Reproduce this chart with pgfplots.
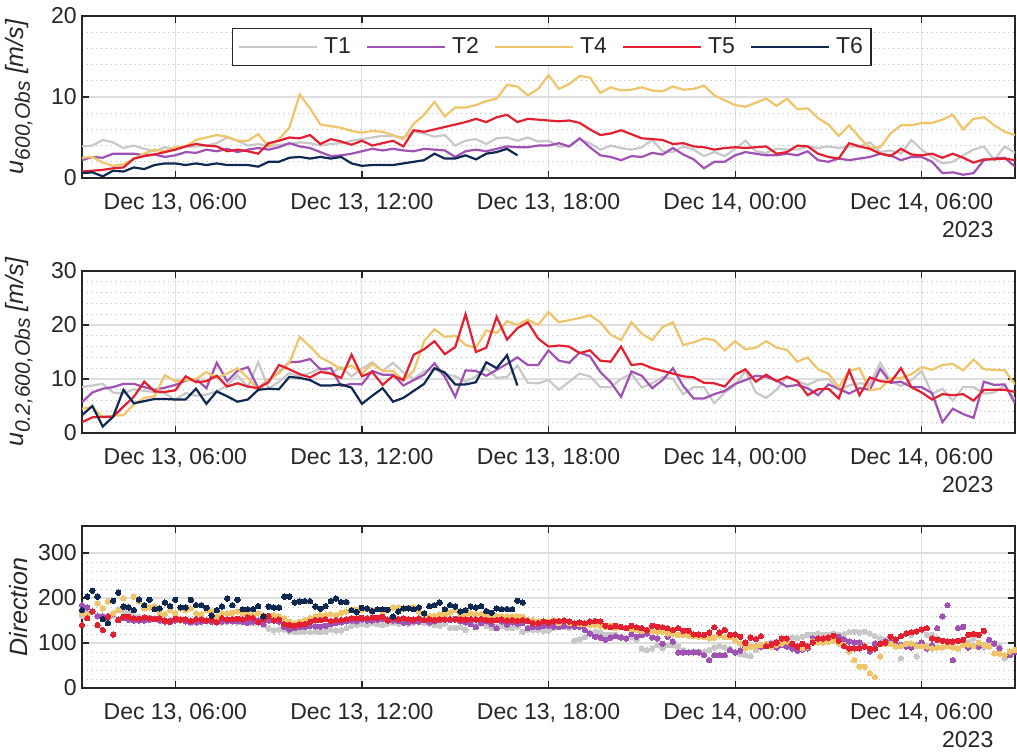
\documentclass[border=0pt]{standalone}
\usepackage{fontspec}
\setmainfont{Liberation Sans}
\usepackage{pgfplots}
\usepackage{pgfplotstable}
\pgfplotsset{compat=1.18}
\definecolor{cT1}{RGB}{200,200,200}
\definecolor{cT2}{RGB}{160,82,180}
\definecolor{cT4}{RGB}{240,196,104}
\definecolor{cT5}{RGB}{228,32,48}
\definecolor{cT6}{RGB}{14,40,82}
\definecolor{axc}{RGB}{38,38,38}
\definecolor{grd}{RGB}{222,222,222}
\definecolor{mgrd}{RGB}{185,185,185}
\newcommand\sub[1]{\raisebox{-0.45ex}{\fontsize{10.5}{12}\selectfont #1}}

% ---------- panel 1 (20-min steps from 03:00) ----------
\pgfplotstableread[row sep=\\]{v\\3.9\\4.0\\4.7\\4.4\\3.7\\4.0\\3.6\\3.3\\3.8\\3.5\\3.9\\3.9\\4.0\\4.3\\5.0\\4.6\\4.0\\4.2\\3.9\\4.1\\4.2\\4.4\\4.3\\4.0\\4.2\\4.3\\4.6\\4.8\\5.0\\5.2\\5.2\\
5.0\\5.7\\5.5\\5.1\\5.3\\4.0\\4.6\\4.8\\4.2\\4.9\\5.0\\4.6\\5.0\\4.5\\4.6\\3.9\\3.9\\4.8\\4.3\\3.5\\4.0\\3.7\\3.5\\3.8\\4.7\\3.3\\3.2\\3.9\\3.5\\2.7\\
3.2\\2.7\\3.6\\4.6\\3.3\\3.1\\3.6\\3.5\\3.5\\3.9\\3.7\\3.9\\3.7\\3.9\\3.9\\4.4\\3.2\\3.4\\3.0\\4.7\\3.5\\2.6\\1.8\\2.0\\2.8\\3.5\\3.9\\2.2\\3.9\\3.1\\}\paTa
\pgfplotstableread[row sep=\\]{v\\2.2\\2.6\\2.5\\3.0\\3.0\\3.0\\2.8\\2.9\\2.6\\2.8\\3.2\\3.1\\3.5\\3.3\\3.6\\3.2\\3.5\\3.7\\3.5\\3.8\\4.3\\3.9\\3.7\\3.2\\2.7\\2.8\\3.0\\3.3\\3.6\\3.4\\3.6\\
3.4\\3.3\\3.6\\3.5\\3.4\\2.6\\3.3\\3.5\\3.3\\3.6\\3.9\\3.8\\3.8\\4.0\\4.0\\4.3\\3.9\\4.9\\3.8\\2.8\\2.6\\2.2\\2.7\\2.6\\3.1\\2.9\\3.7\\2.9\\2.3\\1.2\\
2.0\\2.0\\2.8\\3.2\\3.0\\2.8\\2.8\\3.0\\2.8\\3.3\\2.2\\2.0\\2.4\\2.2\\2.4\\2.6\\3.0\\2.8\\2.2\\2.6\\2.6\\2.0\\0.6\\0.7\\0.4\\0.6\\2.2\\2.4\\2.5\\1.4\\}\paTb
\pgfplotstableread[row sep=\\]{v\\2.5\\2.6\\1.9\\1.5\\1.7\\2.3\\3.0\\3.5\\3.3\\3.8\\3.9\\4.7\\5.0\\5.3\\5.1\\4.6\\4.6\\5.4\\3.9\\4.8\\6.2\\10.3\\8.6\\6.6\\6.4\\6.2\\5.8\\5.6\\5.8\\5.7\\5.3\\
4.8\\6.7\\7.8\\9.4\\7.6\\8.7\\8.7\\9.0\\9.5\\9.8\\11.5\\11.3\\10.2\\11.0\\12.7\\11.0\\11.6\\12.6\\12.4\\10.5\\11.2\\10.8\\10.9\\11.2\\10.8\\10.7\\11.3\\10.9\\11.0\\11.4\\
10.2\\9.6\\9.0\\8.8\\9.3\\9.8\\8.9\\9.8\\8.5\\8.6\\7.4\\6.6\\5.2\\6.5\\5.0\\3.7\\3.8\\5.5\\6.5\\6.5\\6.8\\6.8\\7.2\\7.8\\6.0\\7.3\\7.5\\6.5\\5.7\\5.3\\}\paTd
\pgfplotstableread[row sep=\\]{v\\0.8\\0.9\\1.0\\1.2\\1.3\\2.4\\2.7\\2.9\\3.2\\3.5\\3.9\\4.2\\4.0\\3.9\\3.3\\3.5\\3.3\\3.0\\4.3\\4.6\\5.0\\4.9\\5.3\\4.2\\4.8\\4.5\\4.1\\4.6\\4.0\\4.3\\4.6\\3.9\\5.9\\5.7\\6.0\\6.3\\6.6\\6.9\\7.3\\6.9\\7.5\\7.8\\6.9\\
7.3\\7.2\\7.1\\7.0\\7.1\\6.8\\6.0\\5.3\\5.5\\5.9\\5.4\\4.9\\4.8\\4.7\\4.2\\4.3\\3.9\\3.8\\3.5\\3.7\\3.8\\3.7\\3.8\\3.9\\3.0\\3.2\\4.0\\3.9\\3.0\\2.6\\2.4\\4.3\\3.9\\3.6\\3.0\\2.7\\3.6\\2.9\\2.8\\3.0\\2.5\\3.0\\2.5\\1.9\\2.3\\2.3\\2.4\\2.2\\}\paTe
\pgfplotstableread[row sep=\\]{v\\0.6\\0.7\\0.2\\0.9\\0.8\\1.3\\1.1\\1.6\\1.8\\1.8\\1.6\\1.8\\1.6\\1.8\\1.6\\1.6\\1.6\\1.4\\2.0\\2.0\\2.5\\2.6\\2.4\\2.6\\2.4\\2.6\\1.8\\1.5\\1.6\\1.6\\1.6\\1.8\\2.0\\2.2\\3.0\\2.4\\2.4\\2.8\\2.3\\3.0\\3.2\\3.6\\2.8\\}\paTf

% ---------- panel 2 ----------
\pgfplotstableread[row sep=\\]{v\\8.5\\8.8\\9.1\\7.5\\7.3\\8.1\\7.8\\7.6\\7.3\\6.2\\7.4\\6.9\\7.1\\7.7\\8.8\\10.7\\8.5\\13.1\\8.2\\9.5\\11.1\\10.5\\11.1\\12.0\\11.0\\12.2\\10.5\\11.9\\13.1\\11.5\\13.0\\
11.2\\10.0\\11.5\\11.8\\10.9\\10.5\\9.5\\10.5\\12.0\\10.2\\10.4\\12.5\\9.3\\9.2\\9.8\\8.0\\9.5\\11.0\\10.5\\8.5\\8.5\\10.0\\11.0\\8.4\\9.2\\10.4\\10.0\\7.2\\8.5\\8.5\\
5.5\\7.5\\8.8\\11.5\\7.5\\6.5\\8.0\\10.5\\9.6\\8.9\\9.8\\10.0\\8.0\\8.8\\9.2\\9.0\\13.0\\9.6\\8.7\\9.8\\11.5\\7.2\\8.2\\6.0\\8.5\\8.5\\7.3\\7.5\\8.8\\6.2\\}\pbTa
\pgfplotstableread[row sep=\\]{v\\5.7\\7.5\\8.2\\8.5\\9.1\\9.1\\8.5\\8.0\\8.4\\8.9\\9.7\\10.0\\8.3\\13.0\\9.6\\11.5\\12.2\\8.3\\9.8\\11.2\\13.1\\13.2\\13.7\\11.8\\12.0\\8.7\\9.1\\9.0\\11.5\\10.8\\10.8\\
8.8\\9.8\\10.8\\12.9\\10.4\\6.7\\11.6\\11.5\\10.6\\11.7\\12.8\\14.0\\12.6\\12.6\\15.3\\13.4\\13.0\\14.9\\14.2\\11.3\\9.4\\6.7\\11.4\\10.6\\8.3\\9.8\\12.0\\8.7\\6.4\\6.4\\
7.2\\7.8\\9.1\\9.8\\10.6\\10.4\\9.7\\8.6\\8.9\\8.3\\7.0\\9.0\\8.2\\7.3\\8.3\\8.0\\11.9\\9.3\\9.5\\8.5\\8.5\\7.4\\2.0\\4.5\\3.5\\2.8\\9.5\\8.9\\9.0\\5.5\\}\pbTb
\pgfplotstableread[row sep=\\]{v\\4.5\\4.8\\2.9\\3.2\\3.3\\5.3\\6.5\\6.8\\10.7\\9.6\\9.8\\10.0\\11.3\\10.2\\11.0\\12.0\\10.2\\8.0\\9.8\\11.2\\13.0\\17.8\\16.0\\14.0\\13.0\\11.8\\12.5\\11.0\\12.8\\11.5\\11.5\\
9.7\\11.5\\17.0\\19.2\\17.8\\18.0\\16.3\\15.8\\19.0\\18.5\\20.7\\20.0\\21.0\\20.0\\22.4\\20.5\\20.9\\21.3\\21.8\\20.5\\18.2\\17.2\\20.5\\18.4\\17.2\\19.6\\20.5\\16.3\\16.8\\17.5\\
17.2\\15.3\\17.0\\15.5\\15.8\\17.0\\15.8\\15.4\\13.2\\14.0\\11.8\\11.0\\8.5\\11.5\\12.0\\7.9\\8.2\\10.2\\10.2\\10.9\\12.2\\11.7\\12.6\\12.8\\11.6\\13.6\\11.8\\11.7\\11.6\\9.0\\}\pbTd
\pgfplotstableread[row sep=\\]{v\\2.0\\2.9\\3.0\\3.0\\4.9\\6.7\\9.5\\7.7\\7.6\\7.9\\10.5\\9.4\\9.6\\10.6\\8.6\\9.2\\8.6\\8.3\\9.4\\12.6\\11.8\\10.9\\10.3\\11.3\\11.0\\10.2\\14.5\\10.5\\11.3\\8.9\\10.6\\
9.8\\14.5\\15.5\\17.0\\14.6\\15.9\\22.0\\15.0\\15.8\\21.5\\17.3\\19.4\\20.5\\17.5\\16.0\\16.2\\16.0\\14.8\\15.3\\13.4\\13.2\\16.0\\12.6\\12.8\\12.0\\11.5\\11.0\\10.5\\10.3\\9.3\\
9.2\\8.6\\10.8\\11.8\\9.5\\10.8\\9.6\\10.4\\9.6\\7.0\\8.1\\8.2\\6.4\\11.6\\7.0\\10.3\\9.6\\9.4\\12.0\\8.5\\7.5\\6.2\\7.2\\7.0\\7.2\\6.0\\8.0\\8.0\\8.0\\7.6\\}\pbTe
\pgfplotstableread[row sep=\\]{v\\3.3\\5.0\\1.2\\3.0\\8.0\\5.5\\5.9\\6.3\\6.3\\6.2\\6.2\\8.2\\5.4\\7.7\\6.8\\5.8\\6.2\\8.0\\8.2\\8.1\\10.4\\10.2\\9.8\\8.8\\8.8\\9.0\\8.4\\5.4\\6.9\\8.3\\5.8\\
6.5\\7.8\\9.1\\12.0\\11.2\\9.0\\9.0\\9.4\\13.1\\12.0\\14.4\\8.8\\}\pbTf

% ---------- panel 3 (10-min steps from 03:00) ----------
\pgfplotstableread[row sep=\\]{v\\160\\165\\170\\162\\155\\150\\160\\175\\172\\165\\160\\158\\155\\156\\155\\152\\150\\150\\152\\150\\148\\150\\148\\147\\148\\147\\148\\146\\147\\148\\146\\148\\147\\145\\146\\140\\132\\128\\130\\130\\126\\124\\124\\125\\124\\126\\124\\125\\130\\128\\128\\133\\138\\140\\142\\140\\144\\142\\140\\143\\145\\
143\\147\\143\\145\\147\\145\\143\\140\\138\\143\\133\\133\\135\\129\\143\\147\\143\\138\\133\\136\\138\\133\\133\\136\\125\\130\\129\\129\\127\\127\\133\\136\\135\\133\\105\\108\\113\\122\\125\\123\\118\\118\\118\\114\\110\\114\\107\\88\\84\\88\\95\\88\\95\\95\\92\\84\\79\\81\\81\\81\\
84\\90\\93\\90\\88\\80\\75\\73\\71\\84\\90\\95\\101\\103\\107\\110\\112\\111\\114\\118\\118\\121\\118\\118\\121\\118\\120\\124\\125\\123\\125\\121\\115\\110\\107\\104\\95\\66\\96\\118\\70\\100\\118\\118\\110\\105\\101\\96\\88\\103\\101\\110\\96\\90\\92\\98\\92\\66\\77\\80\\}\pcTa
\pgfplotstableread[row sep=\\]{v\\184\\179\\170\\159\\159\\160\\165\\152\\155\\152\\150\\150\\150\\152\\154\\150\\148\\150\\150\\152\\148\\146\\146\\148\\149\\147\\146\\148\\149\\148\\149\\147\\145\\148\\150\\142\\150\\150\\148\\135\\130\\133\\135\\136\\138\\137\\136\\138\\142\\144\\146\\148\\150\\148\\152\\150\\150\\152\\153\\152\\150\\
149\\145\\146\\148\\148\\151\\146\\148\\151\\152\\151\\154\\148\\146\\142\\135\\144\\148\\142\\133\\148\\141\\146\\143\\144\\133\\136\\135\\138\\138\\136\\136\\138\\138\\136\\136\\129\\121\\114\\112\\107\\112\\115\\112\\110\\120\\114\\118\\121\\112\\110\\98\\114\\103\\79\\79\\79\\79\\79\\73\\
62\\73\\73\\73\\84\\79\\83\\92\\92\\93\\92\\96\\98\\90\\95\\92\\88\\83\\85\\88\\110\\103\\107\\107\\110\\114\\108\\103\\101\\101\\93\\81\\99\\99\\103\\101\\99\\96\\92\\90\\95\\101\\88\\95\\133\\159\\184\\62\\133\\136\\90\\93\\92\\95\\107\\99\\88\\73\\73\\80\\}\pcTb
\pgfplotstableread[row sep=\\]{v\\168\\162\\170\\188\\177\\192\\166\\173\\199\\180\\203\\192\\177\\179\\181\\166\\164\\173\\166\\177\\173\\177\\166\\164\\173\\170\\159\\166\\166\\167\\170\\166\\167\\162\\166\\162\\160\\162\\159\\155\\147\\144\\147\\151\\155\\159\\162\\162\\164\\162\\167\\170\\174\\175\\173\\175\\173\\175\\170\\173\\179\\
179\\175\\178\\179\\170\\164\\159\\160\\164\\164\\168\\173\\164\\162\\166\\164\\164\\162\\159\\160\\159\\159\\159\\159\\158\\151\\151\\148\\148\\148\\151\\144\\151\\144\\144\\142\\142\\140\\140\\138\\135\\138\\133\\135\\133\\131\\129\\127\\129\\126\\125\\125\\121\\121\\118\\118\\116\\115\\114\\113\\
110\\112\\117\\113\\113\\106\\99\\88\\92\\92\\96\\98\\92\\96\\99\\103\\99\\92\\88\\92\\103\\101\\101\\103\\105\\99\\96\\81\\62\\47\\47\\33\\24\\70\\98\\98\\92\\93\\98\\99\\93\\93\\92\\88\\90\\90\\93\\90\\88\\96\\96\\93\\101\\96\\92\\77\\76\\73\\81\\85\\}\pcTd
\pgfplotstableread[row sep=\\]{v\\140\\155\\170\\140\\129\\158\\119\\151\\158\\158\\155\\154\\157\\155\\153\\155\\150\\147\\154\\152\\153\\149\\153\\152\\150\\152\\146\\155\\152\\153\\154\\153\\157\\155\\146\\153\\160\\150\\152\\142\\140\\138\\141\\142\\147\\151\\151\\153\\149\\151\\151\\153\\155\\155\\156\\155\\157\\156\\158\\150\\155\\
153\\155\\153\\152\\155\\151\\153\\151\\153\\152\\153\\152\\152\\152\\153\\152\\153\\151\\150\\151\\152\\150\\151\\149\\151\\149\\144\\144\\148\\145\\148\\149\\150\\148\\144\\146\\144\\148\\149\\148\\138\\135\\138\\136\\133\\138\\135\\133\\129\\138\\136\\135\\133\\129\\133\\127\\127\\119\\119\\118\\
123\\135\\123\\129\\118\\119\\114\\101\\112\\109\\115\\93\\96\\101\\110\\110\\98\\92\\98\\93\\101\\110\\110\\112\\116\\105\\93\\88\\88\\88\\92\\87\\88\\98\\101\\114\\108\\115\\121\\124\\126\\130\\133\\110\\107\\105\\103\\103\\105\\107\\118\\120\\118\\127\\}\pcTe
\pgfplotstableread[row sep=\\]{v\\173\\203\\216\\203\\153\\144\\194\\212\\181\\179\\173\\197\\184\\196\\175\\177\\190\\182\\196\\179\\179\\196\\184\\184\\178\\161\\173\\181\\199\\184\\196\\175\\175\\175\\182\\159\\181\\179\\179\\203\\203\\190\\192\\193\\193\\181\\176\\182\\193\\199\\191\\191\\173\\169\\178\\177\\171\\175\\175\\174\\159\\
170\\177\\177\\175\\179\\166\\182\\184\\190\\175\\184\\181\\170\\173\\181\\179\\182\\171\\167\\177\\175\\175\\175\\194\\190\\}\pcTf

\pgfplotsset{
  myax/.style={
    scale only axis, width=466.5pt, height=81pt,
    xmin=3, xmax=33,
    xtick={6,12,18,24,30},
    xticklabels={{Dec 13, 06:00},{Dec 13, 12:00},{Dec 13, 18:00},{Dec 14, 00:00},{Dec 14, 06:00\\2023}},
    xticklabel style={align=right, yshift=-4.4pt},
    yticklabel style={inner xsep=2.5pt},
    tick align=inside, tick pos=both,
    major tick length=3.5pt, minor tick length=0pt,
    minor y tick num=4,
    ymajorgrids, yminorgrids, xmajorgrids,
    major grid style={grd, line width=0.55pt},
    minor grid style={mgrd, dotted, line width=0.35pt},
    axis line style={axc, line width=0.6pt},
    every tick/.style={axc, line width=0.6pt},
    tick label style={font=\fontsize{11.5}{14}\selectfont, text=axc},
    /pgf/number format/assume math mode=true,
    ylabel style={font=\fontsize{12.5}{14}\selectfont\itshape, text=axc, at={(axis description cs:-0.0525,0.5)}, anchor=south, inner sep=0pt},
    lin/.style={line width=1.1pt},
    dot/.style={only marks, mark=*, mark size=1.35pt, mark options={line width=0pt}},
  }
}

\begin{document}
\begin{tikzpicture}
\useasboundingbox (-41pt,8pt) rectangle (467.5pt,-368.5pt);
% ---- panel 1 ----
\begin{axis}[myax, at={(0pt,0pt)}, anchor=north west,
  ymin=0, ymax=20, ytick={0,10,20},
  ylabel={u\sub{600,Obs} [m/s]},
  legend columns=5,
  legend style={at={(0.161,0.926)}, anchor=north west, draw=axc, line width=0.6pt, fill=white,
    font=\fontsize{11.5}{13}\selectfont, text=axc, inner xsep=2.5pt, inner ysep=2.5pt,
    nodes={inner xsep=1.5pt},
    /tikz/every odd column/.append style={column sep=1.5pt},
    /tikz/every even column/.append style={column sep=6pt}},
  legend image code/.code={\draw[#1] (0pt,0pt) -- (39pt,0pt);},
]
\addplot[cT1, lin] table[x expr=3+\coordindex/3, y=v]{\paTa};
\addplot[cT2, lin] table[x expr=3+\coordindex/3, y=v]{\paTb};
\addplot[cT4, lin] table[x expr=3+\coordindex/3, y=v]{\paTd};
\addplot[cT5, lin] table[x expr=3+\coordindex/3, y=v]{\paTe};
\addplot[cT6, lin] table[x expr=3+\coordindex/3, y=v]{\paTf};
\legend{T1,T2,T4,T5,T6}
\end{axis}
% ---- panel 2 ----
\begin{axis}[myax, at={(0pt,-127.5pt)}, anchor=north west,
  ymin=0, ymax=30, ytick={0,10,20,30},
  ylabel={u\sub{0.2,600,Obs} [m/s]},
]
\addplot[cT1, lin] table[x expr=3+\coordindex/3, y=v]{\pbTa};
\addplot[cT2, lin] table[x expr=3+\coordindex/3, y=v]{\pbTb};
\addplot[cT4, lin] table[x expr=3+\coordindex/3, y=v]{\pbTd};
\addplot[cT5, lin] table[x expr=3+\coordindex/3, y=v]{\pbTe};
\addplot[cT6, lin] table[x expr=3+\coordindex/3, y=v]{\pbTf};
\end{axis}
% ---- panel 3 ----
\begin{axis}[myax, at={(0pt,-255pt)}, anchor=north west,
  ymin=0, ymax=360, ytick={0,100,200,300},
  ylabel={Direction},
  ylabel style={at={(axis description cs:-0.058,0.5)}},
]
\addplot[cT1, dot] table[x expr=3+\coordindex/6, y=v]{\pcTa};
\addplot[cT2, dot] table[x expr=3+\coordindex/6, y=v]{\pcTb};
\addplot[cT4, dot] table[x expr=3+\coordindex/6, y=v]{\pcTd};
\addplot[cT5, dot] table[x expr=3+\coordindex/6, y=v]{\pcTe};
\addplot[cT6, dot] table[x expr=3+\coordindex/6, y=v]{\pcTf};
\end{axis}
\end{tikzpicture}
\end{document}
